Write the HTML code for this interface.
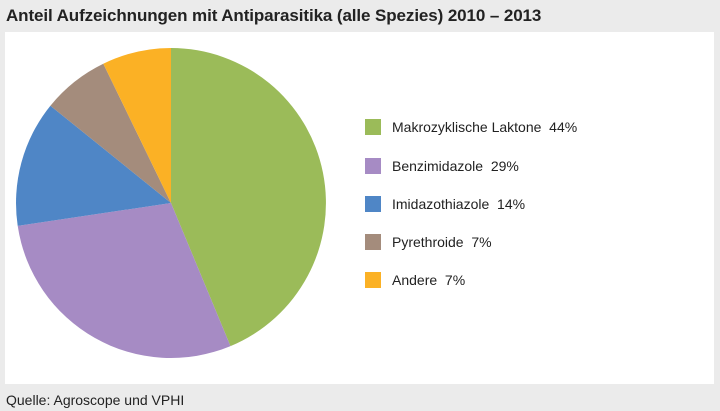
<!DOCTYPE html>
<html><head><meta charset="utf-8"><style>
body{margin:0;width:720px;height:411px;background:#ebebeb;font-family:"Liberation Sans",sans-serif;position:relative;overflow:hidden}
.t{position:absolute;left:6px;top:6px;font-size:17px;font-weight:bold;color:#222;letter-spacing:-0.1px}
.w{position:absolute;left:5px;top:32px;width:709px;height:352px;background:#fff}
.q{position:absolute;left:6px;top:392px;font-size:14px;color:#222}
.lg{position:absolute;left:365px;font-size:14px;color:#222;height:16px;line-height:16px}
.lg span{display:inline-block;width:16px;height:16px;vertical-align:top;margin-right:11px}
</style></head><body>
<div class="t">Anteil Aufzeichnungen mit Antiparasitika (alle Spezies) 2010 – 2013</div>
<div class="w"></div>
<svg style="position:absolute;left:0;top:0" width="720" height="411">
<path d="M171,203 L171,48 A155,155 0 0 1 230.5,346.1 Z" fill="#9bbb59"/>
<path d="M171,203 L230.5,346.1 A155,155 0 0 1 17.7,225.9 Z" fill="#a68bc4"/>
<path d="M171,203 L17.7,225.9 A155,155 0 0 1 50.4,105.7 Z" fill="#4f86c6"/>
<path d="M171,203 L50.4,105.7 A155,155 0 0 1 103.3,63.7 Z" fill="#a48c7c"/>
<path d="M171,203 L103.3,63.7 A155,155 0 0 1 171,48 Z" fill="#fbb125"/>
</svg>
<div class="lg" style="top:119px"><span style="background:#9bbb59"></span>Makrozyklische Laktone&nbsp; 44%</div>
<div class="lg" style="top:158px"><span style="background:#a68bc4"></span>Benzimidazole&nbsp; 29%</div>
<div class="lg" style="top:196px"><span style="background:#4f86c6"></span>Imidazothiazole&nbsp; 14%</div>
<div class="lg" style="top:234px"><span style="background:#a48c7c"></span>Pyrethroide&nbsp; 7%</div>
<div class="lg" style="top:272px"><span style="background:#fbb125"></span>Andere&nbsp; 7%</div>
<div class="q">Quelle: Agroscope und VPHI</div>
</body></html>
